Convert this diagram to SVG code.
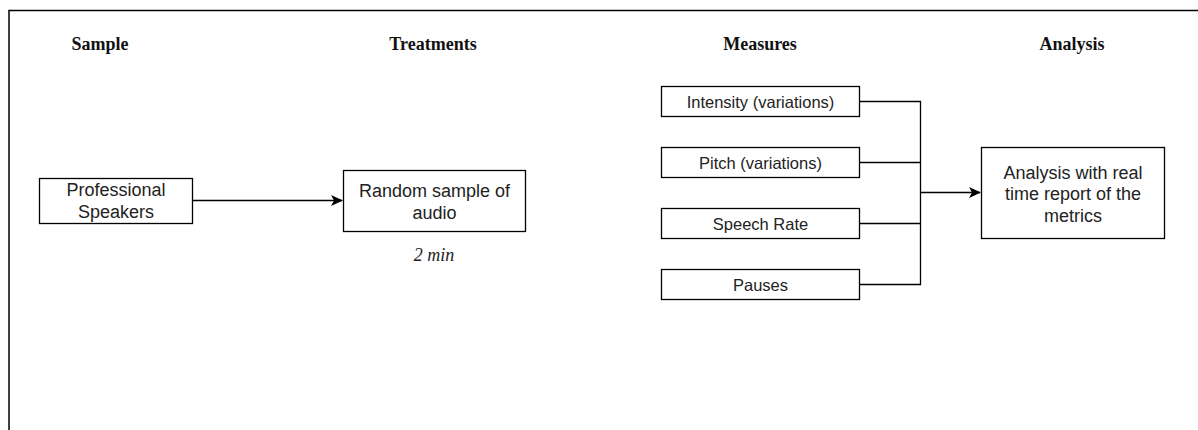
<svg xmlns="http://www.w3.org/2000/svg" width="1198" height="430" viewBox="0 0 1198 430">
<defs>
<style>
.box{fill:#fff;stroke:#000;stroke-width:1.3}
.hdr{font-family:"Liberation Serif","Times New Roman",serif;font-weight:bold;font-size:18px;fill:#111;text-anchor:middle}
.lbl{font-family:"Liberation Sans",Arial,sans-serif;font-size:18px;fill:#222;text-anchor:middle}
.sm{font-family:"Liberation Sans",Arial,sans-serif;font-size:16.5px;fill:#222;text-anchor:middle}
.note{font-family:"Liberation Serif","Times New Roman",serif;font-style:italic;font-size:18px;fill:#222;text-anchor:middle}
.edge{fill:none;stroke:#000;stroke-width:1.3}
</style>
<marker id="arr" viewBox="0 0 12 11" refX="11" refY="5.5" markerWidth="12" markerHeight="11" markerUnits="userSpaceOnUse" orient="auto">
<path d="M0,0 L12,5.5 L0,11 L3,5.5 Z" fill="#000"/>
</marker>
</defs>
<rect width="1198" height="430" fill="#fff"/>
<path d="M9,430 L9,10.5 L1198,10.5" fill="none" stroke="#000" stroke-width="1.5"/>
<g id="headers">
<text class="hdr" x="100" y="50">Sample</text>
<text class="hdr" x="433" y="50">Treatments</text>
<text class="hdr" x="760" y="50">Measures</text>
<text class="hdr" x="1072" y="50">Analysis</text>
</g>
<g id="connectors">
<path class="edge" d="M192.5,200.5 L342,200.5" marker-end="url(#arr)"/>
<path class="edge" d="M859.5,101.5 L920.5,101.5 L920.5,284.5 L859.5,284.5"/>
<path class="edge" d="M859.5,162.5 L920.5,162.5"/>
<path class="edge" d="M859.5,223.5 L920.5,223.5"/>
<path class="edge" d="M920.5,192.5 L980,192.5" marker-end="url(#arr)"/>
</g>
<g id="professional-speakers">
<rect class="box" x="39.5" y="178.5" width="153" height="45"/>
<text class="lbl" x="116" y="195.5">Professional</text>
<text class="lbl" x="116" y="217.5">Speakers</text>
</g>
<g id="random-sample">
<rect class="box" x="343.5" y="170.5" width="182" height="61"/>
<text class="lbl" x="434.5" y="197">Random sample of</text>
<text class="lbl" x="434.5" y="219">audio</text>
<text class="note" x="434" y="261">2 min</text>
</g>
<g id="intensity">
<rect class="box" x="661.5" y="86.5" width="198" height="30"/>
<text class="sm" x="760.5" y="107.5">Intensity (variations)</text>
</g>
<g id="pitch">
<rect class="box" x="661.5" y="147.5" width="198" height="30"/>
<text class="sm" x="760.5" y="168.5">Pitch (variations)</text>
</g>
<g id="speech-rate">
<rect class="box" x="661.5" y="208.5" width="198" height="30"/>
<text class="sm" x="760.5" y="229.5">Speech Rate</text>
</g>
<g id="pauses">
<rect class="box" x="661.5" y="269.5" width="198" height="30"/>
<text class="sm" x="760.5" y="290.5">Pauses</text>
</g>
<g id="analysis">
<rect class="box" x="981.5" y="147.5" width="183" height="91"/>
<text class="lbl" x="1073" y="178.5">Analysis with real</text>
<text class="lbl" x="1073" y="200">time report of the</text>
<text class="lbl" x="1073" y="221.5">metrics</text>
</g>
</svg>
